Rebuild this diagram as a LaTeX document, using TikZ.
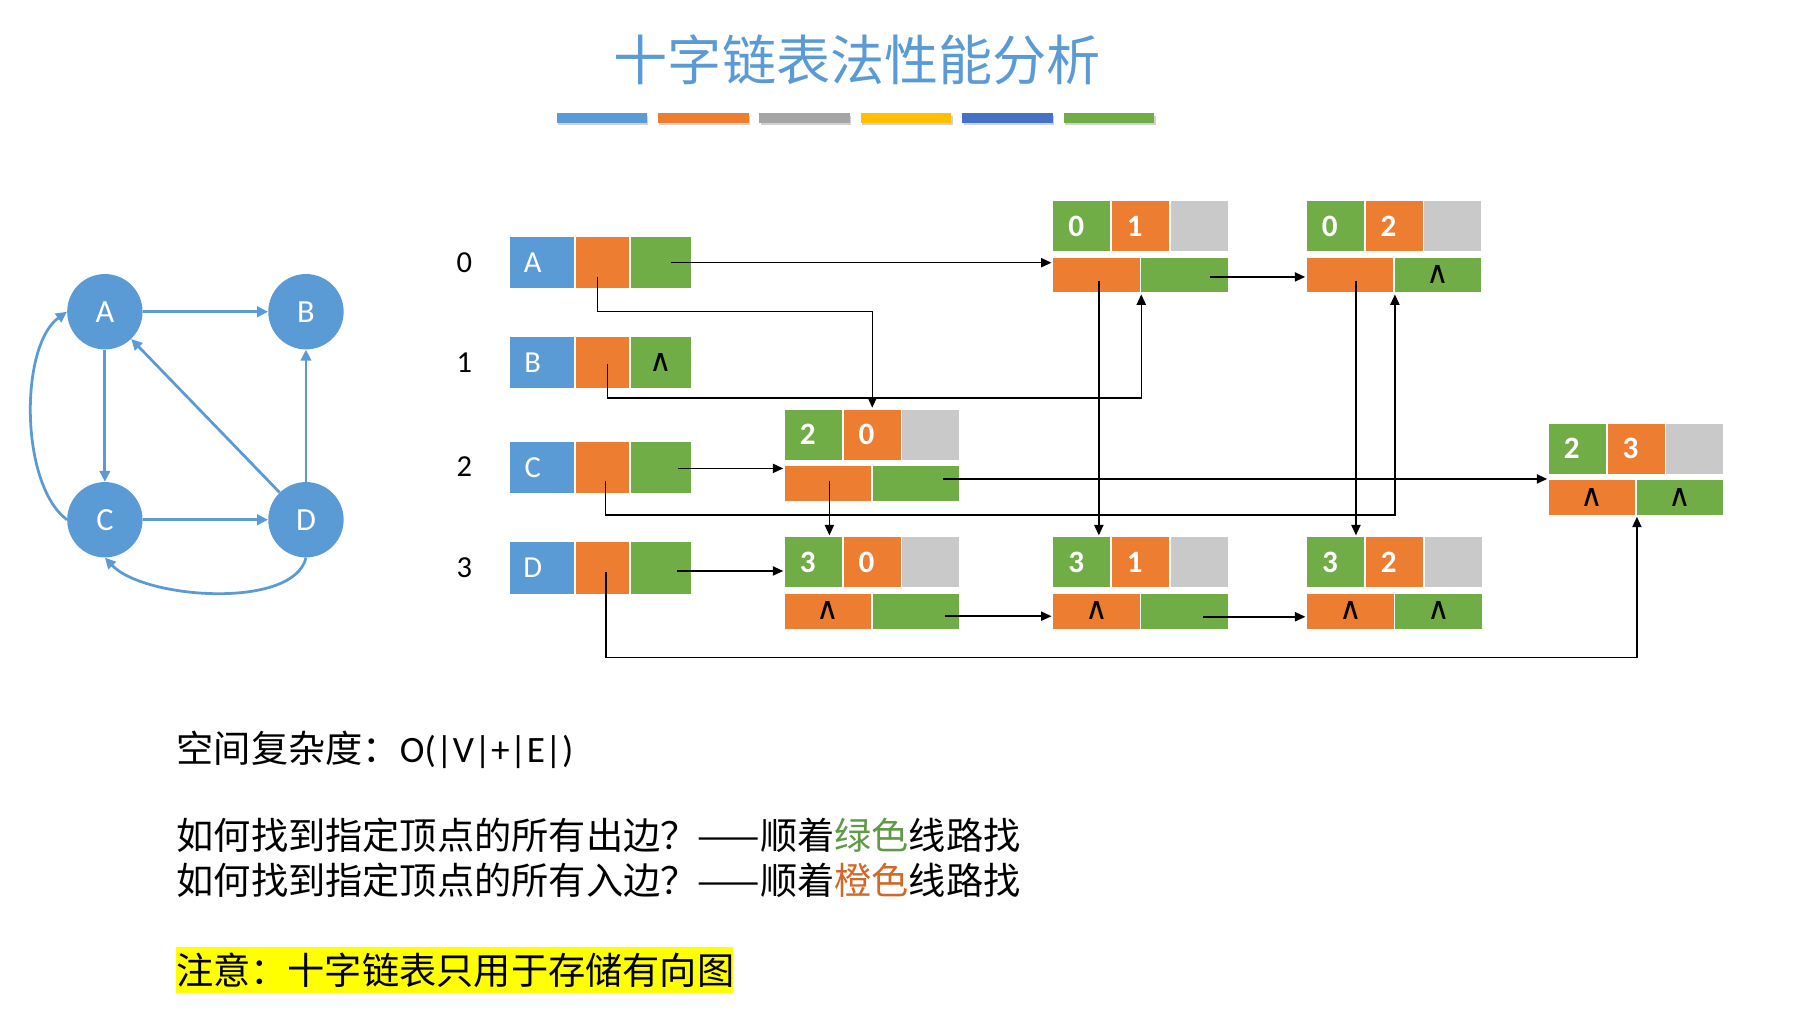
\documentclass[tikz,border=0pt]{standalone}
\usepackage{fontspec}
\setmainfont{Carlito}
\newfontfamily\cjk{Noto Sans CJK SC}
\newfontfamily\symfont{DejaVu Sans}
\usetikzlibrary{arrows.meta,calc}
\definecolor{cblue}{HTML}{5B9BD5}
\definecolor{corange}{HTML}{ED7D31}
\definecolor{cgreen}{HTML}{70AD47}
\definecolor{cgray}{HTML}{C9C9C9}
\definecolor{cgraybar}{HTML}{A5A5A5}
\definecolor{cyellow}{HTML}{FFC000}
\definecolor{cdblue}{HTML}{4472C4}
\definecolor{tgreen}{HTML}{5F9A45}
\definecolor{torange}{HTML}{D0692A}
\definecolor{hlyellow}{HTML}{FFFF00}
\newcommand\nil{{\symfont\fontsize{27}{27}\selectfont ∧}}
\newcommand\vnode[5]{%
  \node[vcell, fill=cblue, minimum width=56pt] (#1b) at (442,#2) {};
  \node[vcell, fill=corange, minimum width=46.5pt] (#1o) at (499.5,#2) {};
  \node[vcell, fill=cgreen, minimum width=51.5pt] (#1g) at (547.5,#2) {#5};
  \node[vlet] (#1l) at ([xshift=-8pt]#1b.center) {#3};
  \node[idx] (#1i) at (403,#2+22.25) {#4};
}
\newcommand\enode[7]{%
  \node[tcell, fill=cgreen] (#1t) at (#2,#3) {};
  \node[tcell, fill=corange] (#1h) at (#2+50.9,#3) {};
  \node[tcell, fill=cgray] (#1i) at (#2+101.8,#3) {};
  \node[dig] (#1tn) at ([xshift=-5pt]#1t.center) {#4};
  \node[dig] (#1hn) at ([xshift=-5pt]#1h.center) {#5};
  \node[bcell, fill=corange] (#1hl) at (#2,#3+49.2) {#6};
  \node[bcell, fill=cgreen] (#1tl) at (#2+76.4,#3+49.2) {#7};
}
\begin{document}
\begin{tikzpicture}[x=1pt,y=-1pt,
  vcell/.style={inner sep=0pt, anchor=north west, minimum height=44.5pt, text height=15pt, text depth=0pt},
  tcell/.style={inner sep=0pt, anchor=north west, minimum width=49.4pt, minimum height=43.5pt},
  bcell/.style={inner sep=0pt, anchor=north west, minimum width=74.8pt, minimum height=30pt, text height=15pt, text depth=0pt},
  vlet/.style={inner sep=0pt, text=white, font=\fontsize{26.5}{26.5}\selectfont},
  idx/.style={inner sep=0pt, text=black, font=\fontsize{26.5}{26.5}\selectfont},
  dig/.style={inner sep=0pt, text=white, font=\bfseries\fontsize{27}{27}\selectfont},
  conn/.style={draw=black, line width=1.25pt, -{Triangle[length=9pt,width=8pt]}, shorten >=1.5pt},
  gv/.style={circle, fill=cblue, minimum size=65.4pt, inner sep=0pt, text=white, font=\fontsize{28}{28}\selectfont},
  gedge/.style={draw=cblue, line width=2.4pt, -{Triangle[length=9.5pt,width=9pt]}},
  btext/.style={inner sep=0pt, anchor=west, font=\cjk\fontsize{32.3}{38}\selectfont, text height=28.4pt, text depth=3.9pt},
]
\useasboundingbox (0,0) rectangle (1568,876);

% title
\node[font=\cjk\fontsize{47}{47}\selectfont, text=cblue, inner sep=0pt] (title) at (744,52) {十字链表法性能分析};
\foreach \c [count=\i] in {cblue,corange,cgraybar,cyellow,cdblue,cgreen}{
  \fill[black!30, opacity=0.6] (483+88*\i-88+1.2,98.3+2.2) rectangle ++(78.5,8.2);
  \fill[\c] (483+88*\i-88,98.3) rectangle ++(78.5,8.2);
}

% graph
\node[gv] (GA) at (91,270.5) {A};
\node[gv] (GB) at (265.5,270.5) {B};
\node[gv] (GC) at (91,451) {C};
\node[gv] (GD) at (265.5,451) {D};
\draw[gedge] (GA) -- (GB);
\draw[gedge] (GA) -- (GC);
\draw[gedge] (GC) -- (GD);
\draw[gedge] (GD) -- (GB);
\draw[gedge] (GD) -- (GA);
\draw[gedge] (GC.west) .. controls (17,420) and (17,300) .. (GA.west);
\draw[gedge] (GD.south) .. controls (255,529) and (125,520) .. (GC.south);

% vertex table
\vnode{A}{205.5}{A}{0}{}
\vnode{B}{292.4}{B}{1}{\nil}
\vnode{C}{383}{C}{2}{}
\vnode{D}{470.5}{D}{3}{}

% edge nodes
\enode{n01}{913.9}{174.4}{0}{1}{}{}
\enode{n02}{1134}{174.4}{0}{2}{}{\nil}
\enode{n20}{681.1}{355.2}{2}{0}{}{}
\enode{n23}{1344}{367.4}{2}{3}{\nil}{\nil}
\enode{n30}{681.1}{466}{3}{0}{\nil}{}
\enode{n31}{913.9}{466}{3}{1}{\nil}{}
\enode{n32}{1134.2}{466}{3}{2}{\nil}{\nil}

% green chain (out edges)
\coordinate (g1s) at ([xshift=9pt]Ag.center);
\draw[conn] (g1s) -- (g1s -| n01hl.west);
\coordinate (g2s) at ([xshift=22pt,yshift=-1.5pt]n01tl.center);
\draw[conn] (g2s) -- (g2s -| n02hl.west);
\coordinate (g3s) at ([xshift=15pt,yshift=-1pt]Cg.center);
\draw[conn] (g3s) -- (g3s -| n20t.west);
\coordinate (g4s) at ([xshift=23pt,yshift=4pt]n20tl.center);
\draw[conn] (g4s) -- (g4s -| n23hl.west);
\coordinate (g5s) at ([xshift=14pt,yshift=-2.5pt]Dg.center);
\draw[conn] (g5s) -- (g5s -| n30t.west);
\coordinate (g6s) at ([xshift=25pt,yshift=-4.3pt]n30tl.center);
\draw[conn] (g6s) -- (g6s -| n31hl.west);
\coordinate (g7s) at ([xshift=16pt,yshift=-4.8pt]n31tl.center);
\draw[conn] (g7s) -- (g7s -| n32hl.west);

% orange chain (in edges)
\coordinate (o1s) at ([xshift=-4.5pt,yshift=-12pt]Ao.center);
\draw[conn] (o1s) |- ([yshift=85pt]n20h.north) -- (n20h.north);
\coordinate (o2s) at ([xshift=4pt,yshift=-1pt]Bo.center);
\draw[conn] (o2s) |- ([yshift=-91.4pt]n01tl.south west) -- (n01tl.south west);
\coordinate (o3s) at ([xshift=2pt,yshift=-5pt]n01hl.center);
\draw[conn] (o3s) -- (o3s |- n31t.north);
\coordinate (o4s) at ([xshift=5pt,yshift=-5pt]n02hl.center);
\draw[conn] (o4s) -- (o4s |- n32t.north);
\coordinate (o5s) at ([xshift=2.5pt,yshift=-12pt]Co.center);
\draw[conn] (o5s) |- ([yshift=-193pt]n02tl.south west) -- (n02tl.south west);
\coordinate (o6s) at ([xshift=1pt,yshift=2pt]n20hl.center);
\draw[conn] (o6s) -- (o6s |- n30t.north);
\coordinate (o7s) at ([xshift=3pt,yshift=-3pt]Do.center);
\draw[conn] (o7s) |- ([yshift=-123.6pt]n23tl.south west) -- (n23tl.south west);

% bottom text
\node[btext] (t1) at (153,649.5) {空间复杂度：{\rmfamily O(|V|+|E|)}};
\node[btext] (t2) at (153,724.5) {如何找到指定顶点的所有出边？——顺着\textcolor{tgreen}{绿色}线路找};
\node[btext] (t3) at (153,763.5) {如何找到指定顶点的所有入边？——顺着\textcolor{torange}{橙色}线路找};
\node[btext, fill=hlyellow, text width=483.2pt, align=left, minimum height=39.4pt] (t4) at (152.6,841.7) {注意：十字链表只用于存储有向图};
\end{tikzpicture}
\end{document}
